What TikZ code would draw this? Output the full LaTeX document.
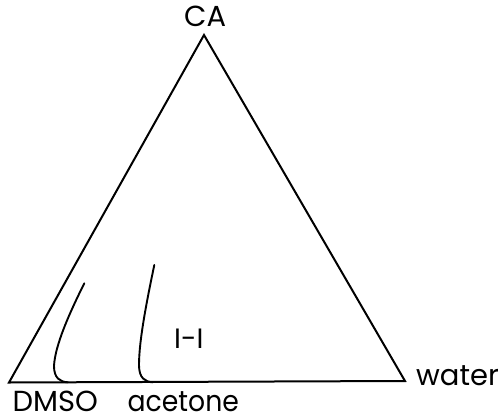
\documentclass[tikz,border=0pt]{standalone}
\usepackage{fontspec}
\setmainfont{Poppins}
\begin{document}
\begin{tikzpicture}[x=1pt,y=-1pt,
  edge/.style={line width=2pt,line join=miter},
  curve/.style={line width=1.9pt,line cap=round},
  lbl/.style={inner sep=0pt,anchor=base west,font=\fontsize{29}{29}\selectfont}]
\useasboundingbox (0,0) rectangle (499,416);
\coordinate (ca) at (204,35);
\coordinate (dmso) at (9,382.5);
\coordinate (water) at (405,381);
\draw[edge] (dmso) -- (ca) -- (water) -- cycle;
% binodal curves
\coordinate (c1t) at (84.3,283.3);
\coordinate (c1b) at (68,382.3);
\coordinate (c2t) at (154.3,265);
\coordinate (c2b) at (153,382.3);
\draw[curve] (c1t) .. controls (70,312) and (55,345) .. (54,366) .. controls (54,378) and (60,382) .. (c1b);
\draw[curve] (c2t) .. controls (147,300) and (139,340) .. (139,365) .. controls (139,378) and (145,382) .. (c2b);
% labels
\node[lbl] (lca) at (184,26.7) {CA};
\node[lbl] (ldmso) at (12.5,411.5) {DMSO};
\node[lbl] (lacet) at (127.5,411.5) {\scalebox{0.92}[1]{acetone}};
\node[lbl] (lwater) at (416,385.5) {water};
\node[lbl,font=\fontsize{28}{28}\selectfont] (lii) at (174,348.3) {I-I};
\end{tikzpicture}
\end{document}
